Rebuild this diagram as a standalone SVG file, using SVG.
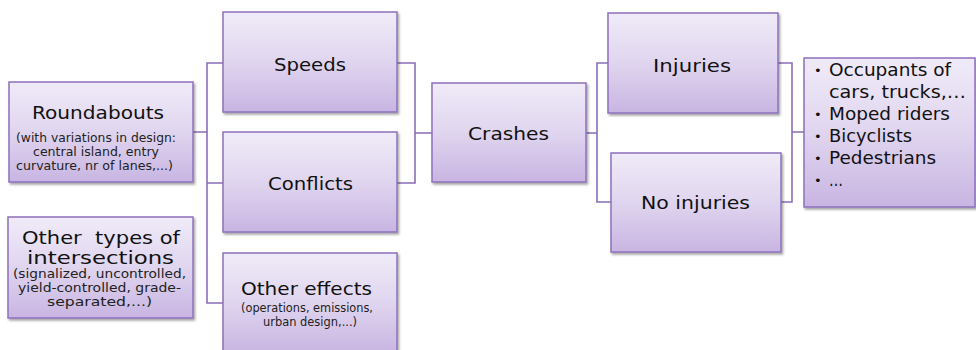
<svg xmlns="http://www.w3.org/2000/svg" width="976" height="350" viewBox="0 0 976 350">
<defs>
<linearGradient id="g" x1="0" y1="0" x2="0" y2="1">
<stop offset="0" stop-color="#f0ebf8"/>
<stop offset="0.5" stop-color="#e0d5ef"/>
<stop offset="1" stop-color="#c8b5e2"/>
</linearGradient>
<filter id="sh" x="-10%" y="-10%" width="125%" height="130%">
<feDropShadow dx="1.5" dy="2" stdDeviation="1.2" flood-color="#000" flood-opacity="0.35"/>
</filter>
</defs>
<style>
.box{fill:url(#g);stroke:#8e70bc;stroke-width:1.5;filter:url(#sh)}
.t{font-family:"DejaVu Sans",Verdana,sans-serif;font-size:18px;fill:#111}
.s{font-family:"DejaVu Sans",Verdana,sans-serif;font-size:11.5px;fill:#222}
.l{font-family:"DejaVu Sans",Verdana,sans-serif;font-size:18px;fill:#111}
.b{font-family:"DejaVu Sans",Verdana,sans-serif;font-size:13px;fill:#111}
.c{fill:none;stroke:#8a6db8;stroke-width:1.6}
</style>
<rect width="976" height="350" fill="#fff"/>
<g id="connectors">
<path class="c" d="M193,132 H207 M223,63 H207 V303 H223 M207,183 H223"/>
<path class="c" d="M397,63 H415 V183 H397 M415,133 H432"/>
<path class="c" d="M586,133 H597 M608,63 H597 V202 H611"/>
<path class="c" d="M778,63 H792 V202 H781 M792,132 H804"/>
</g>
<g id="roundabouts">
<rect class="box" x="9" y="82" width="184" height="100"/>
<text class="t" x="32" y="119" textLength="132" lengthAdjust="spacingAndGlyphs">Roundabouts</text>
<text class="s" x="16" y="142" textLength="160" lengthAdjust="spacingAndGlyphs">(with variations in design:</text>
<text class="s" x="33" y="156" textLength="126" lengthAdjust="spacingAndGlyphs">central island, entry</text>
<text class="s" x="16" y="170" textLength="157" lengthAdjust="spacingAndGlyphs">curvature, nr of lanes,...)</text>
</g>
<g id="other-types">
<rect class="box" x="8" y="217" width="185" height="101"/>
<text class="t" x="22" y="244" textLength="158" lengthAdjust="spacingAndGlyphs" xml:space="preserve">Other  types of</text>
<text class="t" x="27" y="264" textLength="147" lengthAdjust="spacingAndGlyphs">intersections</text>
<text class="s" x="13" y="278" textLength="173" lengthAdjust="spacingAndGlyphs">(signalized, uncontrolled,</text>
<text class="s" x="18" y="292" textLength="163" lengthAdjust="spacingAndGlyphs">yield-controlled, grade-</text>
<text class="s" x="47" y="306" textLength="105" lengthAdjust="spacingAndGlyphs">separated,...)</text>
</g>
<g id="speeds">
<rect class="box" x="223" y="12" width="174" height="100"/>
<text class="t" x="274" y="71" textLength="72" lengthAdjust="spacingAndGlyphs">Speeds</text>
</g>
<g id="conflicts">
<rect class="box" x="223" y="132" width="174" height="100"/>
<text class="t" x="268" y="190" textLength="85" lengthAdjust="spacingAndGlyphs">Conflicts</text>
</g>
<g id="other-effects">
<rect class="box" x="223" y="253" width="174" height="100"/>
<text class="t" x="241" y="295" textLength="131" lengthAdjust="spacingAndGlyphs">Other effects</text>
<text class="s" x="241" y="312" textLength="132" lengthAdjust="spacingAndGlyphs">(operations, emissions,</text>
<text class="s" x="263" y="326" textLength="94" lengthAdjust="spacingAndGlyphs">urban design,...)</text>
</g>
<g id="crashes">
<rect class="box" x="432" y="83" width="154" height="99"/>
<text class="t" x="468" y="140" textLength="81" lengthAdjust="spacingAndGlyphs">Crashes</text>
</g>
<g id="injuries">
<rect class="box" x="608" y="13" width="170" height="100"/>
<text class="t" x="653" y="72" textLength="78" lengthAdjust="spacingAndGlyphs">Injuries</text>
</g>
<g id="no-injuries">
<rect class="box" x="611" y="153" width="170" height="99"/>
<text class="t" x="641" y="209" textLength="109" lengthAdjust="spacingAndGlyphs">No injuries</text>
</g>
<g id="road-users">
<rect class="box" x="804" y="58" width="171" height="149"/>
<text class="b" x="814" y="75">•</text>
<text class="l" x="829" y="76" textLength="122" lengthAdjust="spacingAndGlyphs">Occupants of</text>
<text class="l" x="829" y="98" textLength="137" lengthAdjust="spacingAndGlyphs">cars, trucks,…</text>
<text class="b" x="814" y="119">•</text>
<text class="l" x="829" y="120" textLength="121" lengthAdjust="spacingAndGlyphs">Moped riders</text>
<text class="b" x="814" y="141">•</text>
<text class="l" x="829" y="142" textLength="83" lengthAdjust="spacingAndGlyphs">Bicyclists</text>
<text class="b" x="814" y="163">•</text>
<text class="l" x="829" y="164" textLength="107" lengthAdjust="spacingAndGlyphs">Pedestrians</text>
<text class="b" x="814" y="185">•</text>
<text class="l" x="829" y="186" textLength="14" lengthAdjust="spacingAndGlyphs">…</text>
</g>
</svg>
